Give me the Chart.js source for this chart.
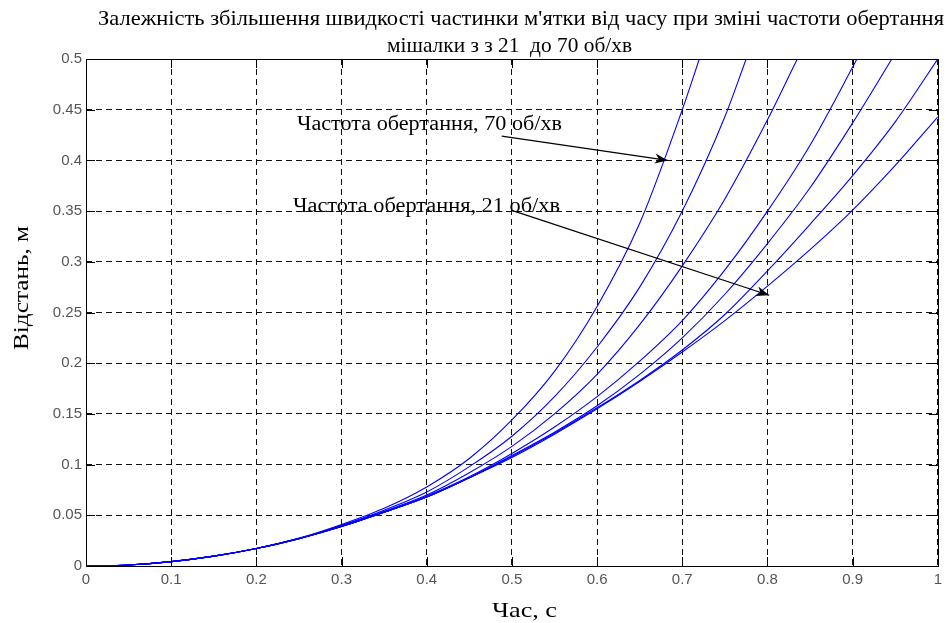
<!DOCTYPE html>
<html>
<head>
<meta charset="utf-8">
<script src="https://cdn.jsdelivr.net/npm/chart.js@4.4.1/dist/chart.umd.min.js"></script>
<style>
  html, body { margin: 0; padding: 0; background: #fff; }
  #wrap { width: 947px; height: 623px; position: relative; }
</style>
</head>
<body>
<div id="wrap"><canvas id="c" width="947" height="623"></canvas></div>
<script>
// Time grid, s
const timeGrid = [0, 0.05, 0.1, 0.15, 0.2, 0.25, 0.3, 0.35, 0.4, 0.45, 0.5,
                  0.55, 0.6, 0.65, 0.7, 0.75, 0.8, 0.85, 0.9, 0.95, 1.0];

// Rotation speeds of the mixer, rpm (fastest first)
const speedLabels = ['70 об/хв', '62 об/хв', '54 об/хв', '45 об/хв', '37 об/хв', '29 об/хв', '21 об/хв'];

// Distance travelled by the particle, m (null = beyond the top of the axes)
const dist70 = [0, 0.001, 0.0043, 0.0097, 0.0173, 0.0275, 0.041, 0.057, 0.078, 0.106, 0.144,
                0.192, 0.256, 0.338, 0.45, null, null, null, null, null, null];
const dist62 = [0, 0.001, 0.0043, 0.0097, 0.0172, 0.0272, 0.040, 0.055, 0.073, 0.098, 0.128,
                0.167, 0.216, 0.275, 0.35, 0.443, null, null, null, null, null];
const dist54 = [0, 0.001, 0.0043, 0.0097, 0.0172, 0.027, 0.040, 0.054, 0.070, 0.092, 0.118,
                0.150, 0.189, 0.238, 0.296, 0.362, 0.44, null, null, null, null];
const dist45 = [0, 0.001, 0.0043, 0.0097, 0.0172, 0.027, 0.039, 0.053, 0.069, 0.088, 0.111,
                0.137, 0.167, 0.202, 0.242, 0.292, 0.35, 0.415, 0.492, null, null];
const dist37 = [0, 0.001, 0.0043, 0.0097, 0.0172, 0.027, 0.039, 0.053, 0.068, 0.087, 0.109,
                0.132, 0.158, 0.189, 0.225, 0.268, 0.318, 0.373, 0.437, null, null];
const dist29 = [0, 0.001, 0.0043, 0.0097, 0.0172, 0.027, 0.039, 0.053, 0.068, 0.087, 0.108,
                0.131, 0.156, 0.183, 0.213, 0.248, 0.291, 0.337, 0.385, 0.438, 0.5];
const dist21 = [0, 0.001, 0.0043, 0.0097, 0.0172, 0.027, 0.039, 0.053, 0.068, 0.087, 0.107,
                0.130, 0.155, 0.182, 0.211, 0.242, 0.276, 0.312, 0.351, 0.395, 0.443];

// Time at which each curve leaves the top edge (0.5 m); null = stays inside
const exitTime = [0.72, 0.775, 0.835, 0.905, 0.946, null, null];
const yTop = 0.5;

// Axis tick labels
const xTickLabels = ['0', '0.1', '0.2', '0.3', '0.4', '0.5', '0.6', '0.7', '0.8', '0.9', '1'];
const yTickLabels = ['0', '0.05', '0.1', '0.15', '0.2', '0.25', '0.3', '0.35', '0.4', '0.45', '0.5'];

// Texts
const titleLines = ['Залежність збільшення швидкості частинки м\'ятки від часу при зміні частоти обертання',
                    'мішалки з з 21  до 70 об/хв'];
const xTitle = 'Час, с';
const yTitle = 'Відстань, м';
const noteFast = 'Частота обертання, 70 об/хв';
const noteSlow = 'Частота обертання, 21 об/хв';

// Arrow endpoints in axis units: [fromX, fromY, toX, toY]
const arrowFast = [0.488, 0.424, 0.683, 0.400];
const arrowSlow = [0.499, 0.351, 0.802, 0.267];

const allSeries = [dist70, dist62, dist54, dist45, dist37, dist29, dist21];

const datasets = allSeries.map((arr, k) => {
  const pts = [];
  arr.forEach((v, i) => { if (v !== null) pts.push({ x: timeGrid[i], y: v }); });
  if (exitTime[k] !== null) pts.push({ x: exitTime[k], y: yTop });
  return {
    label: speedLabels[k],
    data: pts,
    showLine: true,
    borderColor: '#0000ff',
    borderWidth: 1.1,
    pointRadius: 0,
    fill: false,
    cubicInterpolationMode: 'monotone'
  };
});

// Draws text squeezed or stretched horizontally to a given width
function drawFitted(ctx, text, x, y, width, font) {
  ctx.font = font;
  const w = ctx.measureText(text).width;
  ctx.save();
  ctx.translate(x, y);
  ctx.scale(width / w, 1);
  ctx.textAlign = 'left';
  ctx.textBaseline = 'alphabetic';
  ctx.fillText(text, 0, 0);
  ctx.restore();
}

function drawArrow(ctx, x1, y1, x2, y2) {
  ctx.save();
  ctx.strokeStyle = '#000';
  ctx.fillStyle = '#000';
  ctx.lineWidth = 1.2;
  ctx.beginPath();
  ctx.moveTo(x1, y1);
  ctx.lineTo(x2, y2);
  ctx.stroke();
  const a = Math.atan2(y2 - y1, x2 - x1);
  const len = 13, half = 5, notch = 9;
  ctx.translate(x2, y2);
  ctx.rotate(a);
  ctx.beginPath();
  ctx.moveTo(0, 0);
  ctx.lineTo(-len, -half);
  ctx.lineTo(-notch, 0);
  ctx.lineTo(-len, half);
  ctx.closePath();
  ctx.fill();
  ctx.restore();
}

const decorations = {
  id: 'decorations',
  afterDatasetsDraw(chart) {
    const { ctx, chartArea: a, scales: { x, y } } = chart;
    ctx.save();
    // axes box
    ctx.strokeStyle = '#000';
    ctx.lineWidth = 1;
    ctx.strokeRect(Math.round(a.left) + 0.5, Math.round(a.top) + 0.5,
                   Math.round(a.right - a.left), Math.round(a.bottom - a.top));
    // inward ticks on all four sides
    const tl = 9;
    ctx.beginPath();
    xTickLabels.forEach(l => {
      const px = Math.round(x.getPixelForValue(parseFloat(l))) + 0.5;
      ctx.moveTo(px, a.bottom); ctx.lineTo(px, a.bottom - tl);
      ctx.moveTo(px, a.top); ctx.lineTo(px, a.top + tl);
    });
    yTickLabels.forEach(l => {
      const py = Math.round(y.getPixelForValue(parseFloat(l))) + 0.5;
      ctx.moveTo(a.left, py); ctx.lineTo(a.left + tl, py);
      ctx.moveTo(a.right, py); ctx.lineTo(a.right - tl, py);
    });
    ctx.stroke();

    // annotations
    ctx.fillStyle = '#000';
    const noteFont = '20px "Liberation Serif", "Times New Roman", serif';
    drawFitted(ctx, noteFast, 297, 130, 265, noteFont);
    drawFitted(ctx, noteSlow, 293, 212, 267, noteFont);
    drawArrow(ctx, x.getPixelForValue(arrowFast[0]), y.getPixelForValue(arrowFast[1]),
                   x.getPixelForValue(arrowFast[2]), y.getPixelForValue(arrowFast[3]));
    drawArrow(ctx, x.getPixelForValue(arrowSlow[0]), y.getPixelForValue(arrowSlow[1]),
                   x.getPixelForValue(arrowSlow[2]), y.getPixelForValue(arrowSlow[3]));

    // title
    const titleFont = '21px "Liberation Serif", "Times New Roman", serif';
    drawFitted(ctx, titleLines[0], 98, 25, 846, titleFont);
    drawFitted(ctx, titleLines[1], 387, 52, 245, titleFont);

    // axis titles
    drawFitted(ctx, xTitle, 492, 617, 65, '22px "Liberation Serif", "Times New Roman", serif');
    ctx.save();
    ctx.translate(28, 350);
    ctx.rotate(-Math.PI / 2);
    drawFitted(ctx, yTitle, 0, 0, 124, '20px "Liberation Serif", "Times New Roman", serif');
    ctx.restore();
    ctx.restore();
  }
};

const tickFont = { family: '"Liberation Sans", Arial, sans-serif', size: 15 };

new Chart(document.getElementById('c'), {
  type: 'scatter',
  data: { datasets },
  options: {
    responsive: false,
    animation: false,
    devicePixelRatio: 1,
    layout: { padding: { top: 59, right: 5, left: 0, bottom: 0 } },
    plugins: { legend: { display: false }, tooltip: { enabled: false }, title: { display: false } },
    scales: {
      x: {
        type: 'linear', min: 0, max: 1,
        afterBuildTicks: s => { s.ticks = xTickLabels.map(l => ({ value: parseFloat(l) })); },
        afterFit: s => { s.height = 57; },
        ticks: {
          callback: v => xTickLabels.find(l => Math.abs(parseFloat(l) - v) < 1e-9),
          color: '#555', font: tickFont, padding: 5, maxRotation: 0, autoSkip: false
        },
        grid: { color: '#111', lineWidth: 1, drawTicks: false },
        border: { display: false, dash: [6, 4] }
      },
      y: {
        type: 'linear', min: 0, max: 0.5,
        afterBuildTicks: s => { s.ticks = yTickLabels.map(l => ({ value: parseFloat(l) })); },
        afterFit: s => { s.width = 86; },
        ticks: {
          callback: v => yTickLabels.find(l => Math.abs(parseFloat(l) - v) < 1e-9),
          color: '#555', font: tickFont, padding: 4, autoSkip: false
        },
        grid: { color: '#111', lineWidth: 1, drawTicks: false },
        border: { display: false, dash: [6, 4] }
      }
    }
  },
  plugins: [decorations]
});
</script>
</body>
</html>
